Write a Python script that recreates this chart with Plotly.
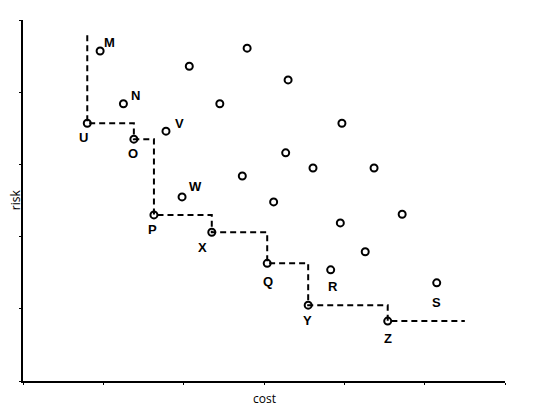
import plotly.graph_objects as go

# ---- data ----
labeled_names = ["M", "N", "U", "O", "V", "W", "P", "X", "Q", "R", "Y", "S", "Z"]
labeled_cost = [0.96, 1.25, 0.80, 1.38, 1.78, 1.98, 1.63, 2.35, 3.04, 3.83, 3.55, 5.15, 4.54]
labeled_risk = [4.57, 3.84, 3.57, 3.35, 3.46, 2.55, 2.30, 2.06, 1.63, 1.54, 1.05, 1.36, 0.83]

other_cost = [2.79, 2.07, 3.30, 2.45, 3.97, 3.27, 3.61, 4.37, 2.73, 3.12, 4.72, 3.95, 4.26]
other_risk = [4.61, 4.36, 4.17, 3.84, 3.57, 3.16, 2.95, 2.95, 2.84, 2.48, 2.31, 2.19, 1.79]

# efficient frontier (staircase), from top start through U,O,P,X,Q,Y,Z to end
frontier_cost = [0.80, 0.80, 1.38, 1.63, 2.35, 3.04, 3.55, 4.54, 5.50]
frontier_risk = [4.79, 3.57, 3.35, 2.30, 2.06, 1.63, 1.05, 0.83, 0.83]

x_ticks = [0, 1, 2, 3, 4, 5, 6]
y_ticks = [0, 1, 2, 3, 4, 5]

# ---- styles (label offsets in px) ----
label_offsets = {
    "M": (9, 9), "N": (12, 8), "U": (-4, -14), "O": (-1, -14), "V": (14, 8),
    "W": (13, 10), "P": (-1, -15), "X": (-9, -15), "Q": (1, -18), "R": (2, -17),
    "Y": (-1, -15), "S": (0, -20), "Z": (0, -17),
}

marker_style = dict(symbol="circle-open", size=7, color="black", line=dict(width=2, color="black"))

fig = go.Figure()
fig.add_trace(go.Scatter(
    x=frontier_cost, y=frontier_risk, mode="lines", line_shape="hv",
    line=dict(color="black", width=2, dash="6px,4px"), hoverinfo="skip",
))
fig.add_trace(go.Scatter(x=other_cost, y=other_risk, mode="markers", marker=marker_style))
fig.add_trace(go.Scatter(x=labeled_cost, y=labeled_risk, mode="markers", marker=marker_style))

for name, cx, ry in zip(labeled_names, labeled_cost, labeled_risk):
    dx, dy = label_offsets[name]
    fig.add_annotation(x=cx, y=ry, text=name, showarrow=False, xshift=dx, yshift=dy,
                       xanchor="center", yanchor="middle",
                       font=dict(family="Liberation Sans", size=13, color="black", weight="bold"))

fig.add_annotation(xref="paper", yref="paper", x=0.5, y=0, yshift=-17, text="cost",
                   xanchor="center", yanchor="middle",
                   showarrow=False, font=dict(family="Open Sans", size=12, color="black"))
fig.add_annotation(xref="paper", yref="paper", x=0, y=0.501, xshift=-8, text="risk",
                   xanchor="center", yanchor="middle",
                   textangle=-90, showarrow=False,
                   font=dict(family="Open Sans", size=12, color="black"))

axis_common = dict(showgrid=False, zeroline=False, showline=True, linecolor="black",
                   linewidth=2, ticks="outside", ticklen=2, tickwidth=1, tickcolor="black",
                   showticklabels=False)
fig.update_xaxes(range=[0, 6], tickvals=x_ticks, **axis_common)
fig.update_yaxes(range=[0, 5], tickvals=y_ticks, **axis_common)

# page body has an 8px default margin, so the plot area is offset accordingly
fig.update_layout(
    width=550, height=411, showlegend=False,
    margin=dict(l=15, r=53, t=12, b=38),
    plot_bgcolor="white", paper_bgcolor="white",
)
fig.write_html("out.html")
